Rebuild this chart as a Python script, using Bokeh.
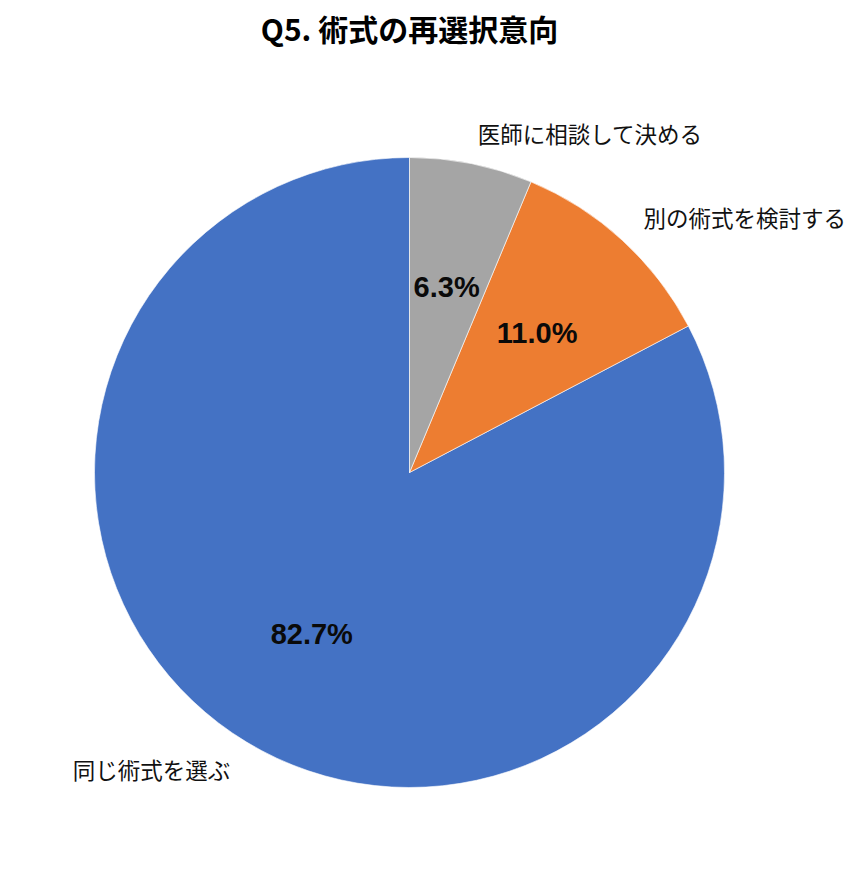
import numpy as np
from bokeh.plotting import figure
from bokeh.models import Range1d, ColumnDataSource
from bokeh.core.properties import value
from bokeh.embed import file_html
from bokeh.resources import INLINE

title_text = "Q5. 術式の再選択意向"
categories = ["同じ術式を選ぶ", "別の術式を検討する", "医師に相談して決める"]
shares = [82.7, 11.0, 6.3]
colors = ["#4472C4", "#ED7D31", "#A5A5A5"]

W, H = 857, 867
cx_px, cy_px, r_px = 409, 472, 315

p = figure(width=W, height=H, output_backend="svg", toolbar_location=None,
           x_range=Range1d(-cx_px / r_px, (W - cx_px) / r_px),
           y_range=Range1d(-(H - cy_px) / r_px, cy_px / r_px),
           min_border=0)
p.axis.visible = False
p.grid.visible = False
p.outline_line_color = None
p.background_fill_color = "white"
p.border_fill_color = "white"

vals = np.array(shares)
frac = vals / vals.sum()
start = np.pi / 2 + 2 * np.pi * np.concatenate([[0], np.cumsum(frac)[:-1]])
end = start + 2 * np.pi * frac
mid = (start + end) / 2

src = ColumnDataSource(dict(start=start, end=end, color=colors))
p.wedge(x=0, y=0, radius=1, start_angle="start", end_angle="end",
        direction="anticlock", fill_color="color", line_color="white",
        line_width=0.6, source=src)

# category labels
lx = 1.1 * np.cos(mid)
ly = 1.1 * np.sin(mid)
align = ["left" if x > 0 else "right" for x in lx]
lab_src = ColumnDataSource(dict(x=lx, y=ly, t=categories, a=align))
p.text(x="x", y="y", text="t", text_align="a", text_baseline="middle",
       text_font=value("Noto Sans CJK JP"), text_font_size="22.5px",
       text_color="#111111", source=lab_src)

# percentage labels
px_ = 0.6 * np.cos(mid)
py_ = 0.6 * np.sin(mid)
pct = [f"{v:.1f}%" for v in shares]
pct_src = ColumnDataSource(dict(x=px_, y=py_, t=pct))
p.text(x="x", y="y", text="t", text_align="center", text_baseline="middle",
       text_font=value("Liberation Sans"), text_font_size="29px",
       text_font_style="bold", text_color="#0a0a0a", source=pct_src)

# title
p.text(x=[0], y=[(cy_px - 27) / r_px], text=[title_text], text_align="center",
       text_baseline="middle", text_font=value("Noto Sans CJK JP"),
       text_font_size="30px", text_font_style="bold", text_color="#000000")

open("out.html", "w").write(file_html(p, INLINE))
